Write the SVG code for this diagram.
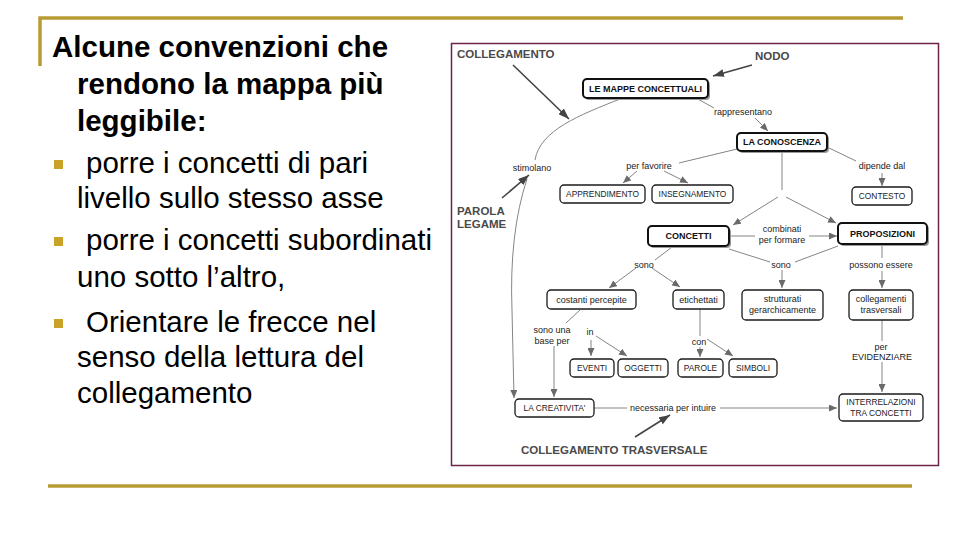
<svg xmlns="http://www.w3.org/2000/svg" width="960" height="540" viewBox="0 0 960 540">
<style>
.h{font-family:"Liberation Sans",Arial,sans-serif;font-size:29.5px;font-weight:bold;fill:#000}
.b{font-family:"Liberation Sans",Arial,sans-serif;font-size:29.5px;fill:#000}
.gold{stroke:#B89B34;stroke-width:3.5;fill:none}
.bul{fill:#C9A227}
.lbl{font-family:"Liberation Sans",Arial,sans-serif;font-size:11.5px;font-weight:bold;fill:#4a4a4a}
.nb{fill:#fff;stroke:#1a1a1a;stroke-width:1.3}
.nbb{fill:#fff;stroke:#111;stroke-width:2}
.sh{fill:#9a9a9a}
.nt{font-family:"Liberation Sans",Arial,sans-serif;font-size:8.4px;fill:#222;text-anchor:middle}
.ntl{font-family:"Liberation Sans",Arial,sans-serif;font-size:9px;fill:#222;text-anchor:middle}
.ntb{font-family:"Liberation Sans",Arial,sans-serif;font-size:9px;font-weight:bold;fill:#111;text-anchor:middle}
.lk{font-family:"Liberation Sans",Arial,sans-serif;font-size:9px;fill:#222;text-anchor:middle}
.c{stroke:#858585;stroke-width:1;fill:none}
.ca{stroke:#858585;stroke-width:1;fill:none;marker-end:url(#arr)}
.la{stroke:#444;stroke-width:1.6;fill:none;marker-end:url(#arrL)}
</style>
<defs>
<marker id="arr" markerUnits="userSpaceOnUse" markerWidth="8" markerHeight="7" refX="8" refY="3.5" orient="auto"><path d="M0,0 L8,3.5 L0,7 z" fill="#6a6a6a"/></marker>
<marker id="arrL" markerUnits="userSpaceOnUse" markerWidth="11" markerHeight="8" refX="11" refY="4" orient="auto"><path d="M0,0 L11,4 L0,8 z" fill="#444"/></marker>
</defs>
<rect width="960" height="540" fill="#fff"/>
<g id="frame">
<path class="gold" d="M40,66 L40,18 L903,18"/>
<path class="gold" d="M48,486 L912,486"/>
</g>
<g id="text-left">
<text class="h" x="52" y="57">Alcune convenzioni che</text>
<text class="h" x="77" y="94">rendono la mappa più</text>
<text class="h" x="77" y="131">leggibile:</text>
<rect class="bul" x="54" y="160" width="9" height="9"/>
<text class="b" x="86" y="173">porre i concetti di pari</text>
<text class="b" x="77" y="208">livello sullo stesso asse</text>
<rect class="bul" x="54" y="237" width="9" height="9"/>
<text class="b" x="86" y="250">porre i concetti subordinati</text>
<text class="b" x="77" y="287">uno sotto l’altro,</text>
<rect class="bul" x="54" y="319" width="9" height="9"/>
<text class="b" x="86" y="332">Orientare le frecce nel</text>
<text class="b" x="77" y="367">senso della lettura del</text>
<text class="b" x="77" y="403">collegamento</text>
</g>
<g id="map-box">
<rect x="451.5" y="43.5" width="487" height="422" fill="#fff" stroke="#6E2348" stroke-width="1.5"/>
</g>
<g id="connectors">
<path class="c" d="M696,98 L714,108"/>
<path class="ca" d="M755,118 L768,131"/>
<path class="c" d="M827,147 L856,161"/>
<path class="ca" d="M882,173 L882,186"/>
<path class="c" d="M737,149 L679,163"/>
<path class="ca" d="M637,171 L623,183"/>
<path class="ca" d="M664,171 L688,183"/>
<path class="c" d="M782,151 L782,190"/>
<path class="ca" d="M778,197 L733,225"/>
<path class="ca" d="M786,197 L836,223"/>
<path class="c" d="M620,99 C580,115 540,130 535,160"/>
<path class="ca" d="M527,179 C515,215 510,260 512,310 L514,398"/>
<path class="c" d="M729,236 L755,236"/>
<path class="ca" d="M809,236 L837,236"/>
<path class="c" d="M672,247 L655,260"/>
<path class="ca" d="M636,268 L609,288"/>
<path class="ca" d="M652,268 L680,287"/>
<path class="c" d="M729,249 L770,262"/>
<path class="c" d="M838,246 L795,262"/>
<path class="ca" d="M782,270 L782,288"/>
<path class="c" d="M882,246 L882,258"/>
<path class="ca" d="M882,271 L882,288"/>
<path class="c" d="M882,320 L882,341"/>
<path class="ca" d="M882,362 L882,392"/>
<path class="c" d="M580,310 L566,323"/>
<path class="ca" d="M554,346 L554,397"/>
<path class="ca" d="M591,340 L591,356"/>
<path class="ca" d="M596,336 L627,356"/>
<path class="c" d="M700,309 L700,336"/>
<path class="ca" d="M700,347 L700,357"/>
<path class="ca" d="M707,339 L733,356"/>
<path class="c" d="M594,408 L627,408"/>
<path class="ca" d="M720,408 L837,408"/>
<path class="la" d="M513,65 L569,119"/>
<path class="la" d="M752,65 L713,76"/>
<path class="la" d="M502,198 L529,175"/>
<path class="la" d="M635,437 L670,415"/>
</g>
<g id="link-labels">
<text class="lk" x="743" y="115">rappresentano</text>
<text class="lk" x="882" y="169">dipende dal</text>
<text class="lk" x="649" y="169">per favorire</text>
<text class="lk" x="532" y="171">stimolano</text>
<text class="lk" x="782" y="232">combinati</text>
<text class="lk" x="782" y="243">per formare</text>
<text class="lk" x="644" y="268">sono</text>
<text class="lk" x="781" y="268">sono</text>
<text class="lk" x="881" y="268">possono essere</text>
<text class="lk" x="552" y="333">sono una</text>
<text class="lk" x="552" y="344">base per</text>
<text class="lk" x="590" y="335">in</text>
<text class="lk" x="699" y="345">con</text>
<text class="lk" x="881" y="350">per</text>
<text class="lk" x="882" y="360">EVIDENZIARE</text>
<text class="lk" x="673" y="411">necessaria per intuire</text>
</g>
<g id="callouts">
<text class="lbl" x="457" y="58">COLLEGAMENTO</text>
<text class="lbl" x="755" y="60">NODO</text>
<text class="lbl" x="457" y="215">PAROLA</text>
<text class="lbl" x="457" y="228">LEGAME</text>
<text class="lbl" x="521" y="454">COLLEGAMENTO TRASVERSALE</text>
</g>
<g id="n-mappe"><rect class="sh" x="585" y="81" width="125" height="19" rx="4"/><rect class="nbb" x="583" y="79" width="125" height="19" rx="4"/><text class="ntb" x="645.5" y="91.5">LE MAPPE CONCETTUALI</text></g>
<g id="n-conoscenza"><rect class="sh" x="739" y="135" width="90" height="18" rx="4"/><rect class="nbb" x="737" y="133" width="90" height="18" rx="4"/><text class="ntb" x="782" y="145">LA CONOSCENZA</text></g>
<g id="n-apprendimento"><rect class="nb" x="560" y="185" width="85" height="18" rx="4"/><text class="nt" x="602.5" y="197">APPRENDIMENTO</text></g>
<g id="n-insegnamento"><rect class="nb" x="652" y="185" width="81" height="18" rx="4"/><text class="nt" x="692.5" y="197">INSEGNAMENTO</text></g>
<g id="n-contesto"><rect class="nb" x="852" y="187" width="60" height="18" rx="4"/><text class="nt" x="882" y="199">CONTESTO</text></g>
<g id="n-concetti"><rect class="sh" x="650" y="228" width="81" height="20" rx="4"/><rect class="nbb" x="648" y="226" width="81" height="20" rx="4"/><text class="ntb" x="688.5" y="239">CONCETTI</text></g>
<g id="n-proposizioni"><rect class="sh" x="840" y="225" width="89" height="21" rx="4"/><rect class="nbb" x="838" y="223" width="89" height="21" rx="4"/><text class="ntb" x="882.5" y="237">PROPOSIZIONI</text></g>
<g id="n-costanti"><rect class="nb" x="547" y="290" width="89" height="19" rx="4"/><text class="ntl" x="591.5" y="302.5">costanti percepite</text></g>
<g id="n-etichettati"><rect class="nb" x="673" y="290" width="51" height="19" rx="4"/><text class="ntl" x="698.5" y="302.5">etichettati</text></g>
<g id="n-strutturati"><rect class="nb" x="742" y="290" width="81" height="30" rx="4"/><text class="ntl" x="782.5" y="302">strutturati</text><text class="ntl" x="782.5" y="313">gerarchicamente</text></g>
<g id="n-collegamenti"><rect class="nb" x="849" y="290" width="64" height="30" rx="4"/><text class="ntl" x="881" y="302">collegamenti</text><text class="ntl" x="881" y="313">trasversali</text></g>
<g id="n-eventi"><rect class="nb" x="570" y="359" width="44" height="18" rx="4"/><text class="nt" x="592" y="371">EVENTI</text></g>
<g id="n-oggetti"><rect class="nb" x="618" y="359" width="50" height="18" rx="4"/><text class="nt" x="643" y="371">OGGETTI</text></g>
<g id="n-parole"><rect class="nb" x="678" y="359" width="45" height="18" rx="4"/><text class="nt" x="700.5" y="371">PAROLE</text></g>
<g id="n-simboli"><rect class="nb" x="729" y="359" width="48" height="18" rx="4"/><text class="nt" x="753" y="371">SIMBOLI</text></g>
<g id="n-creativita"><rect class="nb" x="515" y="399" width="79" height="18" rx="4"/><text class="nt" x="554.5" y="411">LA CREATIVITA'</text></g>
<g id="n-interrelazioni"><rect class="nb" x="839" y="394" width="84" height="27" rx="4"/><text class="nt" x="881" y="405">INTERRELAZIONI</text><text class="nt" x="881" y="415.5">TRA CONCETTI</text></g>
</svg>
